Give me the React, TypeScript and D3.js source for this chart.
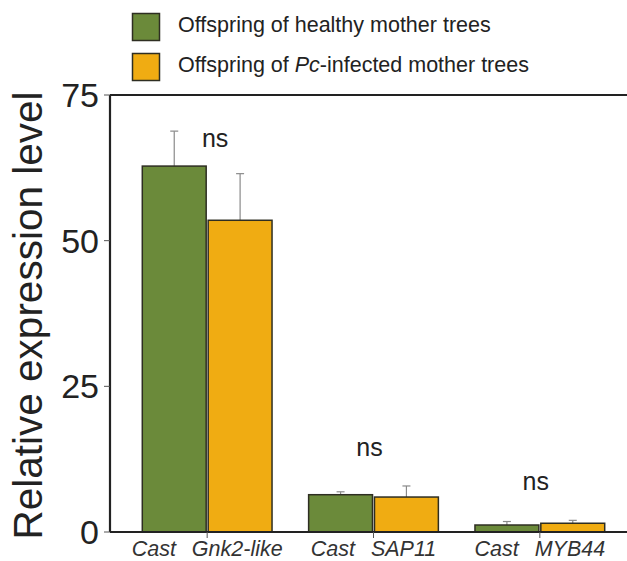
import * as d3 from "d3";
import React from "react";

const genes = ["Gnk2-like", "SAP11", "MYB44"];
const seriesNames = ["Offspring of healthy mother trees", "Offspring of Pc-infected mother trees"];
const healthyMeans = [62.8, 6.4, 1.2];
const healthyErr = [6.0, 0.5, 0.6];
const infectedMeans = [53.5, 6.0, 1.5];
const infectedErr = [8.0, 1.9, 0.5];
const nsLevels = [66.1, 13.0, 7.2];
const yTicks = [0, 25, 50, 75];

const colors = ["#6b8a3a", "#f0ac12"];

const width = 627;
const height = 561;
const margin = { top: 95, right: 0, bottom: 29, left: 110 };

export default function App() {
  const y = d3.scaleLinear().domain([0, 75]).range([height - margin.bottom, margin.top]);
  const x = d3.scaleBand<string>()
    .domain(genes)
    .range([124, 623])
    .paddingInner(0.22)
    .paddingOuter(0.11);
  const sub = d3.scaleBand<number>().domain([0, 1]).range([0, x.bandwidth()]).paddingInner(0.03);

  const series = [
    { means: healthyMeans, errs: healthyErr },
    { means: infectedMeans, errs: infectedErr },
  ];

  const font = "'Liberation Sans', Arial, sans-serif";

  return (
    <svg width={width} height={height} style={{ position: "absolute", left: 0, top: 0, background: "#fff" }} fontFamily={font}>
      {/* legend */}
      {seriesNames.map((name, i) => (
        <g key={name} transform={`translate(132, ${13 + i * 40})`}>
          <rect x={0.5} y={0.5} width={27} height={27} fill={colors[i]} stroke="#2e2e22" strokeWidth={1.5} />
          <text x={46} y={19} fontSize={21.5} fill="#222">
            {i === 0 ? name : (
              <>
                Offspring of <tspan fontStyle="italic">Pc</tspan>-infected mother trees
              </>
            )}
          </text>
        </g>
      ))}

      {/* bars */}
      {genes.map((g, gi) => (
        <g key={g} transform={`translate(${x(g)}, 0)`}>
          {series.map((s, si) => {
            const bx = sub(si)!;
            const bw = sub.bandwidth();
            const top = y(s.means[gi]);
            const errTop = y(s.means[gi] + s.errs[gi]);
            const cx = bx + bw / 2;
            return (
              <g key={si}>
                <line x1={cx} x2={cx} y1={top} y2={errTop} stroke="#8a8a8a" strokeWidth={1.2} />
                <line x1={cx - 4} x2={cx + 4} y1={errTop} y2={errTop} stroke="#8a8a8a" strokeWidth={1.2} />
                <rect x={bx} y={top} width={bw} height={y(0) - top} fill={colors[si]} stroke="#2e2e22" strokeWidth={1.5} />
              </g>
            );
          })}
          <text x={x.bandwidth() / 2 + (gi === 0 ? 8 : -4)} y={y(nsLevels[gi])} fontSize={25} textAnchor="middle" fill="#222">ns</text>
        </g>
      ))}

      {/* axes */}
      <line x1={margin.left} x2={width} y1={margin.top} y2={margin.top} stroke="#222" strokeWidth={2.2} />
      <line x1={margin.left} x2={width} y1={y(0)} y2={y(0)} stroke="#222" strokeWidth={2.2} />
      <line x1={margin.left} x2={margin.left} y1={margin.top} y2={y(0)} stroke="#222" strokeWidth={2.2} />
      {yTicks.map(t => (
        <g key={t} transform={`translate(${margin.left}, ${y(t)})`}>
          <line x1={-6} x2={0} stroke="#555" strokeWidth={1} />
          <text x={-11} fontSize={34} textAnchor="end" dominantBaseline="central" fill="#222">{t}</text>
        </g>
      ))}
      {genes.map(g => {
        const cx = x(g)! + x.bandwidth() / 2;
        return (
          <g key={g} transform={`translate(${cx}, ${y(0)})`}>
            <line y1={0} y2={6} stroke="#555" strokeWidth={1} />
            <text y={24} fontSize={21.5} fontStyle="italic" textAnchor="middle" fill="#333">
              Cast<tspan dx={16}>{g}</tspan>
            </text>
          </g>
        );
      })}
      <text
        transform={`translate(42, ${(margin.top + y(0)) / 2 + 2}) rotate(-90)`}
        fontSize={40.5}
        textAnchor="middle"
        fill="#222"
      >
        Relative expression level
      </text>
    </svg>
  );
}
